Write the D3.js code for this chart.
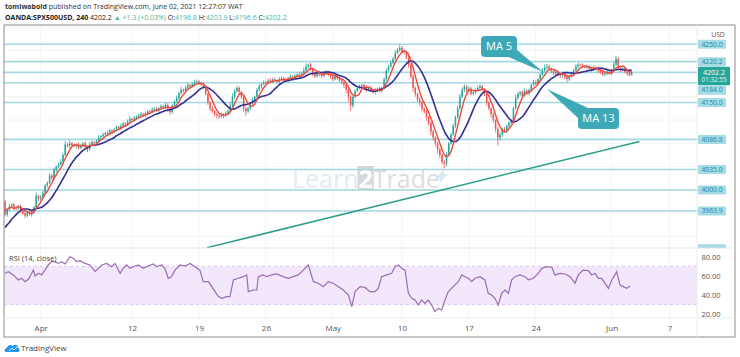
<!DOCTYPE html>
<html>
<head>
<meta charset="utf-8">
<script src="https://cdn.jsdelivr.net/npm/d3@7/dist/d3.min.js"></script>
<style>
html,body{margin:0;padding:0;background:#fff;overflow:hidden;}
svg{display:block;}
text{font-family:"Open Sans","Liberation Sans",Arial,sans-serif;}
</style>
</head>
<body>
<svg id="chart" width="740" height="357"></svg>
<script>
// ---------------- DATA ----------------
// 4h closes (SPX500USD), visible bars
const closes = [
3958,3966,3972,3975,3970,3968,3972,3965,3960,3956,3962,3958,3963,3970,3990,3985,
3988,3995,4008,4012,4025,4020,4035,4040,4044,4048,4060,4078,4076,4080,4077,
4075,4078,4072,4076,4080,4074,4070,4078,4082,4080,4084,4090,
4092,4095,4098,4096,4102,4100,4104,4108,4106,4110,4114,4112,4118,4122,
4120,4124,4126,4128,4130,4128,4132,4135,4134,4138,4140,4136,4140,4144,4142,4146,
4140,4134,4145,4152,4158,4166,4172,4170,4176,4180,4178,4182,4184,4186,4183,4180,
4176,4165,4150,4140,4135,4130,4128,4126,4130,4128,4132,4135,
4145,4160,4170,4175,4168,4160,4140,4135,4140,4148,4155,4160,4172,4178,4182,
4185,4184,4188,4186,4190,4188,4186,4190,4192,4190,4188,4192,4195,4193,4196,4198,4195,4200,4205,4212,
4215,4208,4200,4195,4202,4198,4196,4200,4203,4198,4195,4190,4196,4192,4188,
4185,4180,4172,4160,4145,4160,4170,4175,4178,4180,4176,4172,4175,4170,4168,4172,4174,4170,
4175,4190,4205,4212,4218,4225,4235,4240,4244,4238,4236,4228,
4215,4195,4175,4165,4155,4150,4140,4135,4125,4115,4100,4090,4080,4070,4060,4048,
4045,4062,4080,4095,4110,4125,4140,4160,4172,4178,4170,4174,4165,4168,4172,4175,
4178,4172,4165,4150,4140,4130,4120,4105,4090,4095,4105,4102,4110,4115,4118,4140,4158,4165,
4168,4162,4170,4166,4172,4180,4185,4182,4190,4198,4205,4210,4212,4208,4204,
4200,4202,4198,4196,4200,4194,4190,4195,4200,4205,4212,4215,4214,4212,4210,4212,4208,4206,4210,4208,
4205,4202,4198,4200,4203,4200,4204,4215,4225,4210,4206,4208,4203,4200,4196.8,4202.2
];
// closes before the first visible bar (they only feed the moving averages)
const priorCloses = [3905,3900,3908,3912,3910,3918,3915,3922,3925,3928,3955,3962,3970,3980];
// wick lengths above / below the candle body (price points)
const wickUp = [
3,2,4,2,3,1,2,3,2,4, 2,3,1,3,6,2,3,4,2,3, 4,2,3,2,3,5,4,6,3,5, 2,3,2,4,3,2,3,2,4,3,
2,3,4,2,3,2,4,3,2,3, 3,2,4,3,2,3,5,2,3,2, 3,4,2,3,2,3,4,2,3,2, 3,2,4,3,2,3,2,4,3,5,
2,3,4,2,3,5,4,3,2,4, 3,2,3,4,2,3,2,3,2,3, 4,5,6,3,4,3,2,3,2,3, 3,4,2,3,4,2,3,2,3,4,
2,3,2,4,3,2,3,2,3,2, 3,2,4,3,5,5,2,3,2,3, 2,3,2,4,3,2,3,2,3,2, 3,2,3,4,2,3,2,3,2,3,
2,3,4,2,3,2,3,2,3,2, 3,4,3,4,3,5,4,6,3,2, 3,2,3,4,3,2,4,3,2,3, 2,3,4,2,3,2,3,4,3,2,
3,4,3,4,5,4,3,2,4,3, 3,2,4,3,2,3,4,3,2,3, 2,3,4,2,3,2,3,4,3,5, 3,2,3,4,3,2,3,4,3,2,
3,4,5,4,3,2,3,2,3,2, 3,2,4,3,2,3,4,3,2,3, 2,3,2,3,4,2,3,2,3,2, 3,2,4,5,5,3,2,3,2,2,
2,1.7
];
const wickDn = [
3,4,2,3,4,3,2,5,3,4, 3,2,4,3,2,4,3,2,3,4, 2,3,2,4,3,2,3,2,3,4, 3,2,4,3,2,3,4,5,3,2,
3,2,3,4,2,3,2,3,4,3, 2,3,2,3,4,2,3,2,3,4, 2,3,2,3,4,3,2,3,2,3, 3,4,3,6,5,3,2,3,4,2,
3,2,3,4,2,3,2,3,2,3, 3,4,5,3,4,6,4,3,5,3, 3,2,3,4,3,5,4,6,8,3, 3,2,3,2,3,4,2,3,2,3,
3,2,3,4,2,3,2,3,4,2, 3,2,3,2,3,2,4,3,5,3, 2,3,4,3,2,3,4,3,2,3, 3,4,5,6,8,9,4,3,2,3,
3,2,4,3,2,3,4,3,2,3, 2,3,2,3,2,3,2,3,4,3, 4,5,4,6,5,4,6,5,4,6, 5,6,5,6,7,6,5,8,4,3,
3,2,4,3,2,3,4,3,2,3, 3,4,3,2,3,4,5,4,6,5, 6,14,5,4,3,4,3,2,3,2, 3,4,3,2,3,4,3,2,3,2,
3,2,3,4,3,4,3,2,3,4, 3,4,5,3,2,3,2,3,2,3, 2,3,4,3,2,3,4,3,2,3, 3,2,3,2,3,4,3,2,3,4,
2,0.2
];
// RSI (14, close): [bar index, value]
const rsiPoints = [
[0,62.7],[1.5,64.4],[3.7,61],[6,55.8],[7.5,57.5],[9,54],[10.5,56.4],[12,62.7],[12.7,66],[13.5,60],
[15,62.7],[16.4,61],[17.9,66],[19.4,71.4],[20.9,74.8],[22.4,74.8],[23.9,73],[25.4,74.8],[26.9,72.4],[29.1,80],
[30.6,78.3],[32.1,74.8],[33.6,75.9],[35.9,73],[38.1,71.4],[40.4,64.4],[41.8,67.9],[43.4,71.4],[45.6,73],[47.8,69.6],
[49.3,73],[51.6,62.7],[53,67.9],[54.6,71.4],[56,67.9],[57.5,69.6],[59.8,71.4],[62,67.9],[64.3,70.3],[66.5,72.4],
[68,69.6],[70.3,71.4],[71.7,67.9],[73.2,57.5],[74.7,59.2],[76.2,66],[78.5,71.4],[80.7,70.3],[83,73],[85.2,69.6],
[87.4,66],[88.9,54],[91.2,54],[92.7,48.8],[94.2,43.6],[95.7,38.4],[97.2,36.7],[99.4,38.4],[100.9,38.4],[102.4,55.8],
[104.6,57.5],[106.9,59.2],[108.4,61],[109.1,43.6],[111.4,45.3],[112.9,45.3],[113.6,59.2],[115.8,61],[117.3,59.2],[119.6,61],
[121.8,62],[124.8,59.2],[127,57.5],[129.3,59.2],[131.5,61],[133.8,66],[136,71.4],[138.3,54],[140.5,52.3],[142.7,48.8],
[145,54],[147.2,52.3],[149.5,48.8],[151.7,45.3],[154,40.1],[155.5,28],[157,43.6],[159.2,48.8],[161.4,48],[163.7,43.6],
[165.9,43.6],[167.4,47],[168.9,59.2],[171.2,61],[173.4,62.7],[174.9,69.6],[176.4,71.4],[177.9,67.9],[179.4,66],[180.9,41.9],
[182.4,36.7],[183.9,35],[185.3,29.7],[186.8,35],[188.3,31.4],[189.8,35],[191.3,29.7],[192.8,22.8],[194.3,26.2],[195.8,24.5],
[197.3,35],[198.8,43.6],[201,48.8],[203.3,54],[204.8,61],[206.3,59.2],[207.8,57.5],[209.3,54],[210.8,57.5],[213,59.2],
[215.2,55.8],[216.7,41.9],[218.2,40.1],[219.7,36.7],[221.2,29.7],[222.7,41.9],[224.2,45.3],[225.7,41.9],[227.2,55.8],[228.7,59.2],
[230.9,61],[233.2,59.2],[234.7,55.8],[236.9,57.5],[239.2,62.7],[240.7,67.9],[242.9,69.6],[245.2,69],[246.6,61],[248.9,62.7],
[251.1,62],[253.4,59.2],[255.6,52.3],[257.1,61],[259.3,66],[261.6,65.5],[263.1,61],[264.6,62.7],[266.1,57.5],[267.6,57.5],
[269.1,52.3],[270.6,47],[272.1,55.8],[273.5,61],[274.3,64.4],[275.8,50.5],[277.3,48.8],[278.8,47],[280.3,49.5]
];
const levels      = [4250.0, 4220.2, 4202.0, 4184.0, 4150.0, 4086.8, 4035.0, 4000.0, 3963.9, 3899.0];
const levelLabels = ["4250.0","4220.2","","4184.0","4150.0","4086.8","4035.0","4000.0","3963.9","3899.0"];
const priceTicks  = [3880,3920,3960,4000,4040,4080,4120,4160,4200,4240,4280];
const rsiTicks    = [20,40,60,80];
const timeTicks   = [16,57,87,117,147,178,208,238,272,298];
const timeLabels  = ["Apr","12","19","26","May","10","17","24","Jun","7"];
const trendLine   = [[90.6,3901],[284.5,4083]];
const callouts    = [{text:"MA 5", at:[241.3,4202.5]}, {text:"MA 13", at:[243,4173.3]}];
const lastPrice = 4202.2, countdown = "01:32:55";

// ---------------- LAYOUT ----------------
const L=4, R=735, AX=697, T=25, MB=248, RB=318, B=337;
const svg = d3.select("#chart");
const x  = d3.scaleLinear().domain([0,310.3]).range([5, 5+2.23*310.3]);
const y  = d3.scaleLinear().domain([3900.4,4283.1]).range([MB,T]);
const yr = d3.scaleLinear().domain([16.15,89.06]).range([RB,MB]);

const defs = svg.append("defs");
defs.append("clipPath").attr("id","clipMain").append("rect").attr("x",L).attr("y",T).attr("width",AX-L).attr("height",MB-T);
defs.append("clipPath").attr("id","clipRsi").append("rect").attr("x",L).attr("y",MB).attr("width",AX-L).attr("height",RB-MB);
defs.append("clipPath").attr("id","clipPA").append("rect").attr("x",AX).attr("y",T-2).attr("width",R-AX).attr("height",MB-T+2);

// ---------------- HEADER ----------------
const h1 = svg.append("text").attr("x",5).attr("y",9).attr("font-size",7).attr("fill","#333");
h1.append("tspan").attr("font-weight","bold").text("tomiwabold");
h1.append("tspan").text(" published on TradingView.com, June 02, 2021 12:27:07 WAT");
const h2 = svg.append("text").attr("x",5).attr("y",20).attr("font-size",7).attr("fill","#222");
const up = "#4cb5a6";
h2.append("tspan").attr("font-weight","bold").text("OANDA:SPX500USD, 240");
h2.append("tspan").text("  4202.2 ");
h2.append("tspan").attr("fill",up).text("▲ +1.3 (+0.03%)");
[["O:","4196.8"],["H:","4203.9"],["L:","4196.6"],["C:","4202.2"]].forEach(([k,v])=>{
  h2.append("tspan").text(" "+k);
  h2.append("tspan").attr("fill",up).text(v);
});

// ---------------- GRID ----------------
const grid = svg.append("g");
grid.selectAll("line.h").data(priceTicks).join("line")
  .attr("x1",L).attr("x2",AX).attr("y1",d=>y(d)).attr("y2",d=>y(d))
  .attr("stroke","#f3f4f7").attr("clip-path","url(#clipMain)");
grid.selectAll("line.v").data(timeTicks).join("line")
  .attr("x1",d=>x(d)).attr("x2",d=>x(d)).attr("y1",T).attr("y2",RB)
  .attr("stroke","#f3f4f7");

// ---------------- MAIN PANE ----------------
const main = svg.append("g").attr("clip-path","url(#clipMain)");

// watermark: one text, with a grey block behind the "2"
const wm = main.append("g").attr("opacity",0.55);
const wmBox = wm.append("rect").attr("fill","#b9b9b9");
const wmText = wm.append("text").attr("x",292).attr("y",188).attr("font-size",25)
  .attr("font-family","Liberation Sans, Arial, sans-serif");
wmText.append("tspan").attr("fill","#c9dde9").text("Learn");
wmText.append("tspan").attr("fill","#fff").attr("font-weight","bold").text("2");
wmText.append("tspan").attr("fill","#c2c2c2").text("Trade");
{
  const node = wmText.node();
  const x0 = 292 + node.getSubStringLength(0,5);
  const w2 = node.getSubStringLength(5,1);
  wmBox.attr("x",x0-1).attr("y",166).attr("width",w2+2).attr("height",24);
  const xe = 292 + node.getComputedTextLength();
  wm.append("path").attr("d",`M${xe-4},178 l8,-9 l0,5 l4,0 l-8,9 l0,-5 z`).attr("fill","#b8d8ea");
}

// level lines
main.selectAll("line.lvl").data(levels).join("line")
  .attr("x1",L).attr("x2",AX).attr("y1",d=>y(d)).attr("y2",d=>y(d))
  .attr("stroke","#a3d7e2").attr("stroke-width",1.6);

// trend line
main.append("line")
  .attr("x1",x(trendLine[0][0])).attr("y1",y(trendLine[0][1]))
  .attr("x2",x(trendLine[1][0])).attr("y2",y(trendLine[1][1]))
  .attr("stroke","#2f9f8a").attr("stroke-width",1.5);

// candles
const all = priorCloses.concat(closes);
const P = priorCloses.length;
const bars = closes.map((c,i)=>{
  const o = all[P+i-1];
  return {i,o,c,h:Math.max(o,c)+wickUp[i], l:Math.min(o,c)-wickDn[i]};
});
const green="#26a69a", red="#ef5350";
const cg = main.append("g");
cg.selectAll("line").data(bars).join("line")
  .attr("x1",d=>x(d.i)).attr("x2",d=>x(d.i)).attr("y1",d=>y(d.h)).attr("y2",d=>y(d.l))
  .attr("stroke",d=>d.c>=d.o?green:red).attr("stroke-width",0.8);
cg.selectAll("rect").data(bars).join("rect")
  .attr("x",d=>x(d.i)-0.75).attr("width",1.5)
  .attr("y",d=>y(Math.max(d.o,d.c)))
  .attr("height",d=>Math.max(0.8, Math.abs(y(d.o)-y(d.c))))
  .attr("fill",d=>d.c>=d.o?green:red);

// moving averages
function sma(n){ return closes.map((c,i)=>({i, v:d3.mean(all.slice(P+i-n+1,P+i+1))})); }
const lineP = d3.line().x(d=>x(d.i)).y(d=>y(d.v)).curve(d3.curveMonotoneX);
main.append("path").datum(sma(13)).attr("d",lineP).attr("fill","none").attr("stroke","#343090").attr("stroke-width",1.6);
main.append("path").datum(sma(5)).attr("d",lineP).attr("fill","none").attr("stroke","#f0473d").attr("stroke-width",1.4);

// callouts
const cc = "#3ea9b6";
const boxes = [{x:481,y:36,w:36,h:21,tail:[[506,56],[516,49]]},{x:578,y:108,w:41,h:21,tail:[[578,118],[588,108]]}];
callouts.forEach((c,k)=>{
  const b = boxes[k];
  const tx = x(c.at[0]), ty = y(c.at[1]);
  svg.append("polygon").attr("points",[b.tail[0],b.tail[1],[tx,ty]].map(p=>p.join(",")).join(" ")).attr("fill",cc);
  svg.append("rect").attr("x",b.x).attr("y",b.y).attr("width",b.w).attr("height",b.h).attr("rx",4).attr("fill",cc);
  svg.append("text").attr("x",b.x+b.w/2).attr("y",b.y+b.h/2).attr("dy","0.36em").attr("text-anchor","middle")
    .attr("font-size",11).attr("fill","#fff").text(c.text);
});

// ---------------- RSI PANE ----------------
const rp = svg.append("g").attr("clip-path","url(#clipRsi)");
rp.append("rect").attr("x",L).attr("width",AX-L).attr("y",yr(70)).attr("height",yr(30)-yr(70)).attr("fill","#f3e8fb");
[70,30].forEach(v=>rp.append("line").attr("x1",L).attr("x2",AX).attr("y1",yr(v)).attr("y2",yr(v))
  .attr("stroke","#d9c6ec").attr("stroke-dasharray","3,3"));
rp.append("path").datum(rsiPoints).attr("d",d3.line().x(d=>x(d[0])).y(d=>yr(d[1])))
  .attr("fill","none").attr("stroke","#9a6bb3").attr("stroke-width",1.2);
svg.append("text").attr("x",9).attr("y",261).attr("font-size",7.5).attr("fill","#444").text("RSI (14, close)");

// ---------------- AXES ----------------
// level label positions (pushed off the last-price box when they would overlap it)
const boxTop = y(lastPrice)-5.5, boxBot = y(lastPrice)+13;
const labelYs = levels.map((v,k)=>{
  let cy = y(v);
  if(levelLabels[k] && cy+4.5>boxTop && cy-4.5<boxBot) cy = (cy>y(lastPrice)) ? boxBot+5 : boxTop-5;
  return levelLabels[k] ? cy : null;
});
const shown = labelYs.filter(c=>c!==null);
const covered = d => {
  const yy = y(d);
  if(yy>MB-3) return true;                       // below the main pane
  if(yy>boxTop-2 && yy<boxBot) return true;      // under the last-price box
  return shown.some(c=>Math.abs(c-yy)<5.5) || shown.filter(c=>Math.abs(c-yy)<7).length>1;
};
// a tick label that sits just next to a level label is nudged clear of it
const nudge = d => {
  const yy = y(d);
  const c = shown.find(c=>Math.abs(c-yy)<9);
  if(c===undefined) return 0;
  return (yy>c ? c+9 : c-9) - yy;
};
const pAxis = d3.axisRight(y).tickValues(priceTicks.filter(d=>!covered(d))).tickSize(0).tickPadding(0).tickFormat(d3.format(".1f"));
const gpa = svg.append("g").attr("transform","translate(715,0)").attr("clip-path","url(#clipPA)").call(pAxis);
gpa.select(".domain").remove();
gpa.attr("font-family","Open Sans, Liberation Sans, sans-serif").attr("font-size",7.2);
gpa.selectAll("text").attr("x",0).attr("y",d=>nudge(d)).attr("text-anchor","middle").attr("fill","#555");
svg.append("text").attr("x",718).attr("y",35).attr("dy","0.32em").attr("text-anchor","middle").attr("font-size",6.8).attr("fill","#555").text("USD");

const lg = svg.append("g").attr("clip-path","url(#clipPA)");
levels.forEach((v,k)=>{
  if(!levelLabels[k]) return;
  const cy = labelYs[k];
  lg.append("line").attr("x1",AX).attr("x2",AX+3).attr("y1",y(v)).attr("y2",y(v)).attr("stroke","#a3d7e2").attr("stroke-width",1.6);
  lg.append("rect").attr("x",698).attr("y",cy-4.5).attr("width",28).attr("height",9).attr("rx",1).attr("fill","#a6dbe6");
  if(cy < MB-4) lg.append("text").attr("x",712).attr("y",cy).attr("dy","0.34em").attr("text-anchor","middle")
    .attr("font-size",6.8).attr("fill","#2b8598").text(levelLabels[k]);
});
// last price box
svg.append("rect").attr("x",698).attr("y",boxTop).attr("width",32).attr("height",boxBot-boxTop).attr("rx",1).attr("fill","#26a69a");
svg.append("text").attr("x",714).attr("y",y(lastPrice)).attr("dy","0.34em").attr("text-anchor","middle").attr("font-size",7).attr("fill","#fff").text(d3.format(".1f")(lastPrice));
svg.append("text").attr("x",714).attr("y",y(lastPrice)+8).attr("dy","0.34em").attr("text-anchor","middle").attr("font-size",6.3).attr("fill","#e6f6f3").text(countdown);

// RSI axis
const rAxis = d3.axisRight(yr).tickValues(rsiTicks).tickSize(0).tickPadding(0).tickFormat(d3.format(".2f"));
const gra = svg.append("g").attr("transform","translate(711,0)").call(rAxis);
gra.select(".domain").remove();
gra.attr("font-family","Open Sans, Liberation Sans, sans-serif").attr("font-size",7.5);
gra.selectAll("text").attr("x",0).attr("text-anchor","middle").attr("fill","#555");

// time axis
const tAxis = d3.axisBottom(x).tickValues(timeTicks).tickSize(0).tickPadding(0).tickFormat((d,k)=>timeLabels[k]);
const gta = svg.append("g").attr("transform",`translate(0,${RB})`).call(tAxis);
gta.select(".domain").remove();
gta.attr("font-family","Open Sans, Liberation Sans, sans-serif").attr("font-size",8);
gta.selectAll("text").attr("y",10).attr("dy","0.34em").attr("fill","#555");

// ---------------- FRAME / SEPARATORS ----------------
svg.append("rect").attr("x",L).attr("y",T).attr("width",R-L).attr("height",B-T).attr("fill","none").attr("stroke","#8d8d8d").attr("stroke-width",1);
svg.append("line").attr("x1",L).attr("x2",R).attr("y1",MB).attr("y2",MB).attr("stroke","#e3e3e3");
svg.append("line").attr("x1",L).attr("x2",R).attr("y1",RB).attr("y2",RB).attr("stroke","#ececec");
svg.append("line").attr("x1",AX).attr("x2",AX).attr("y1",T).attr("y2",B).attr("stroke","#ececec");

// ---------------- FOOTER ----------------
const logo = svg.append("g").attr("transform","translate(5,343)");
logo.append("path").attr("d","M1,9 C-1,9 -1,5 2,5 C2,2 6,1 8,3 C9,1 13,1 13,5 C15,5 15,9 13,9 Z").attr("fill","#2196f3");
logo.append("path").attr("d","M4,8 l3,-3 l2,2 l3,-3").attr("stroke","#fff").attr("stroke-width",1).attr("fill","none");
svg.append("text").attr("x",21).attr("y",351).attr("font-size",8).attr("fill","#444").text("TradingView");
</script>
</body>
</html>
